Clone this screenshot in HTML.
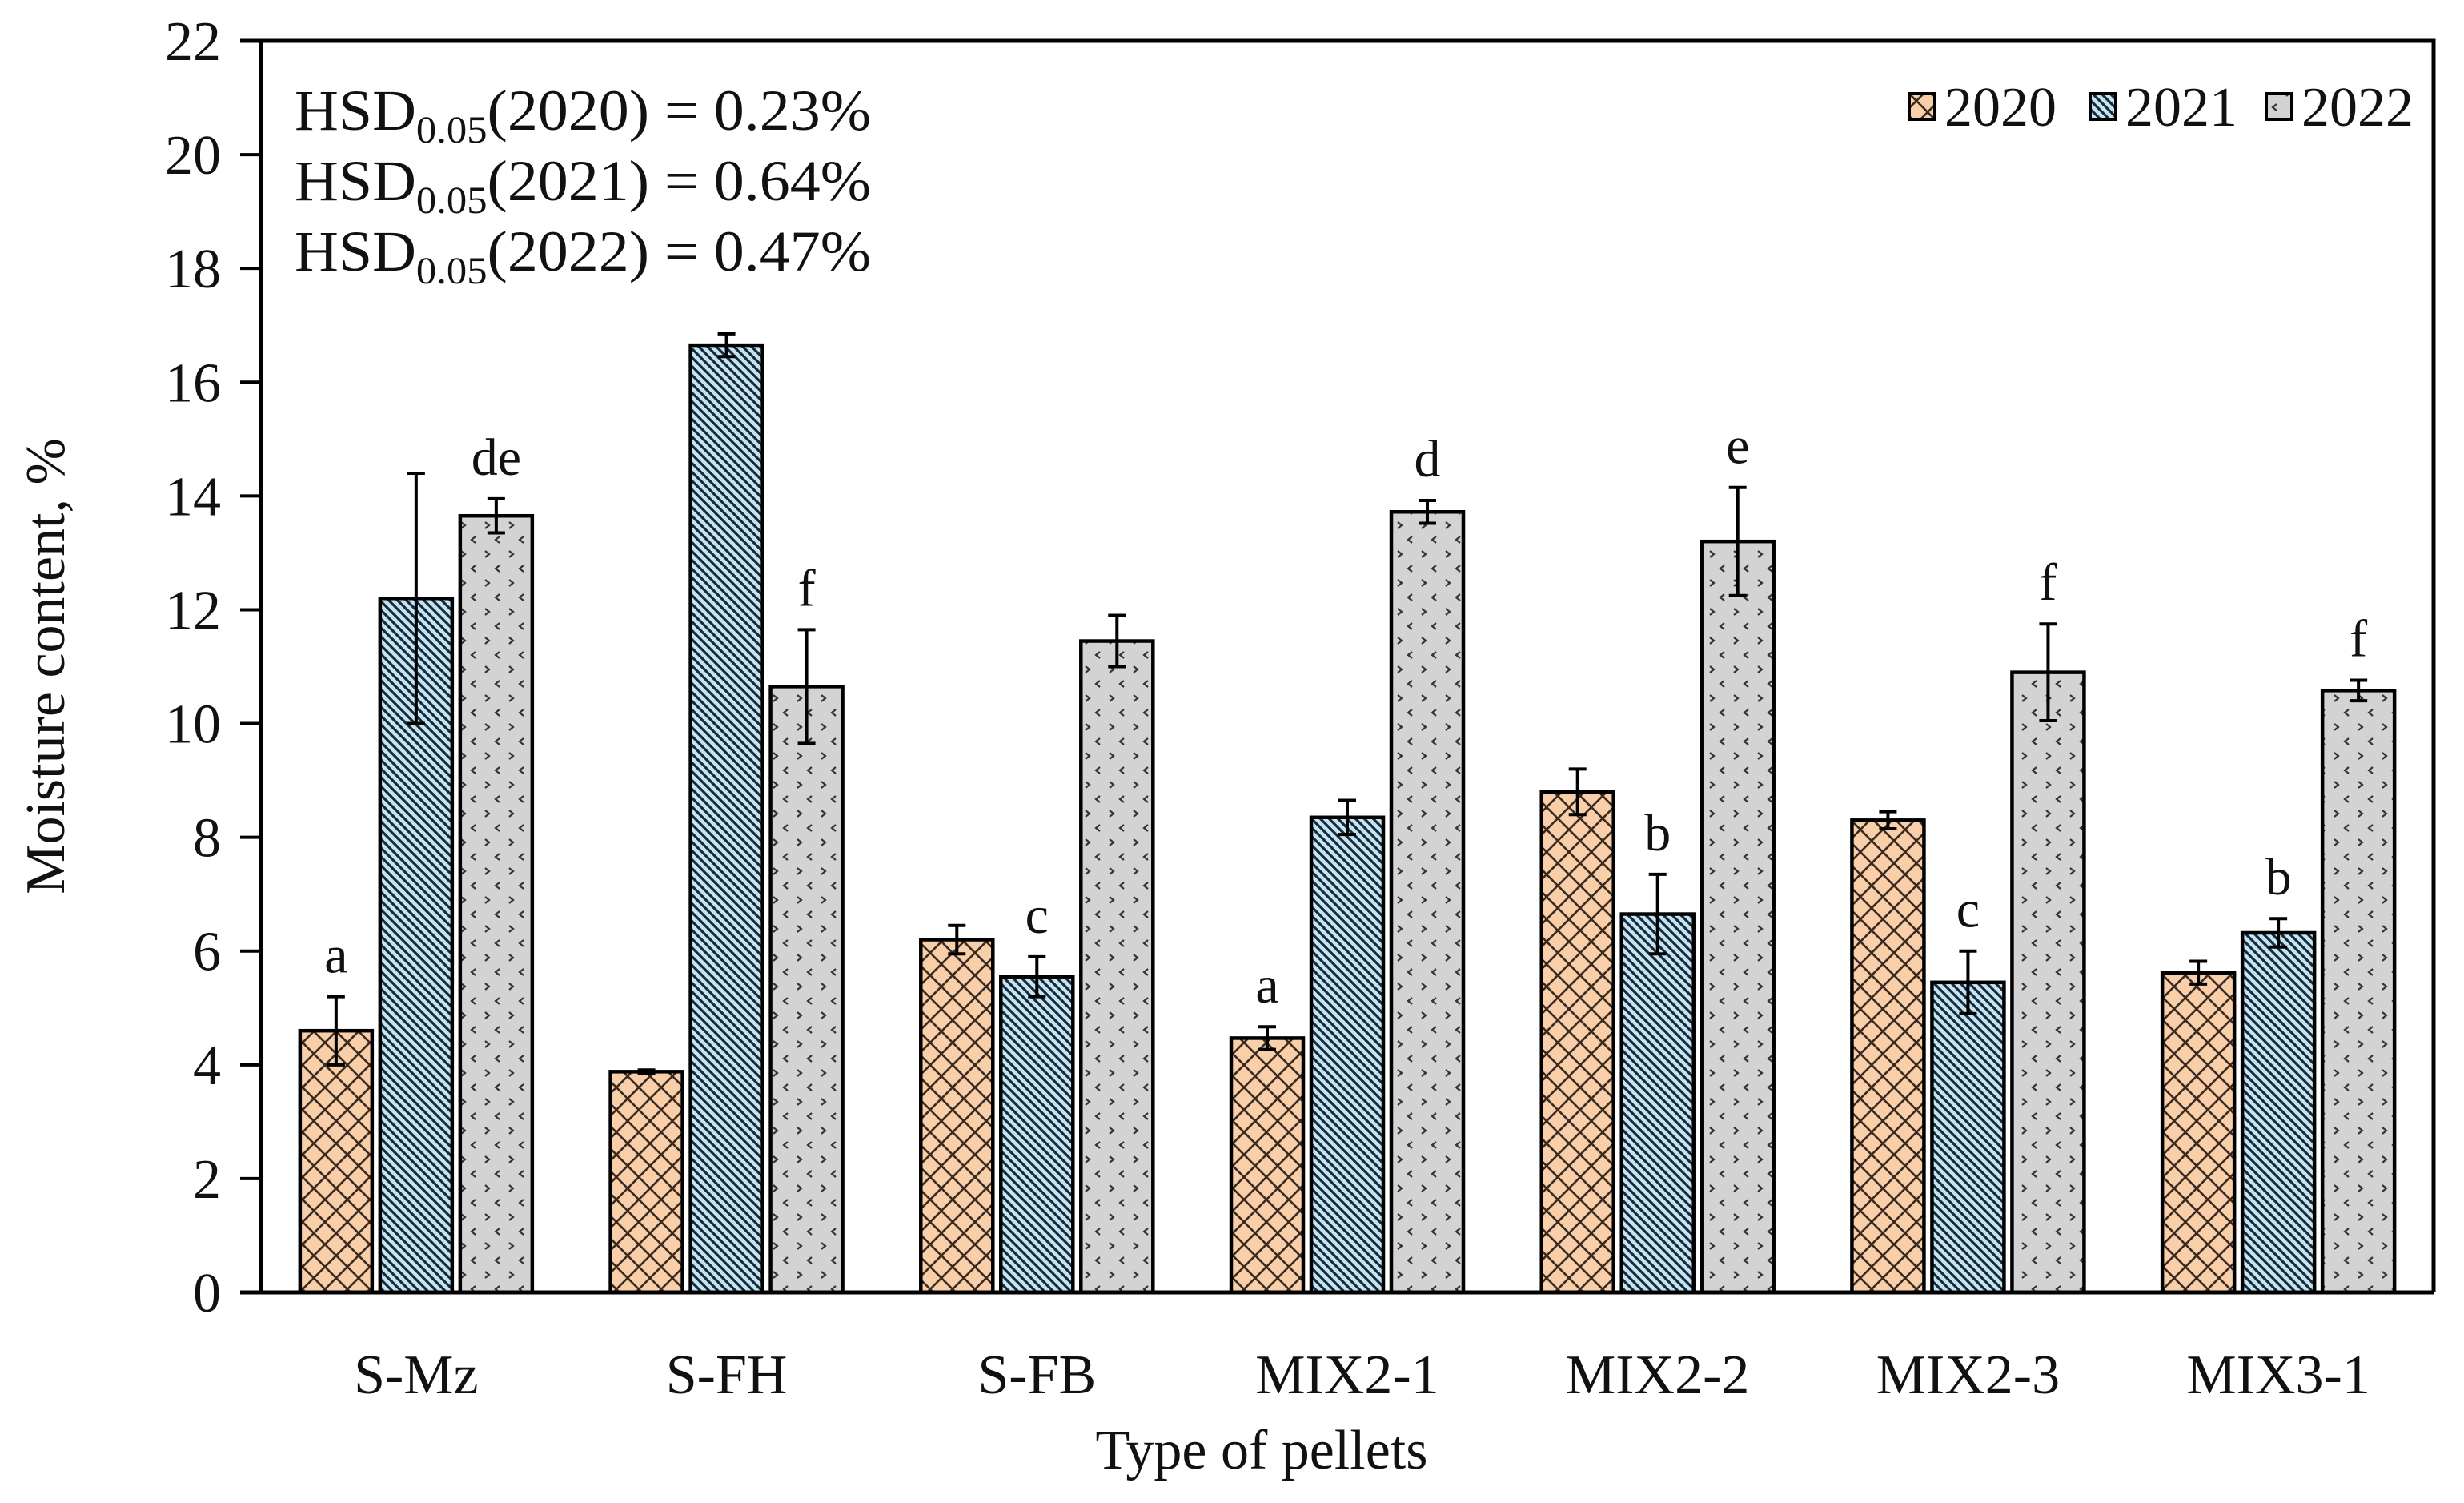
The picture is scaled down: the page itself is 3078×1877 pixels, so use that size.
<!DOCTYPE html>
<html><head><meta charset="utf-8"><style>
html,body{margin:0;padding:0;background:#fff;}
svg{display:block;font-family:"Liberation Serif",serif;}
</style></head><body>
<svg id="chart" width="3078" height="1877" viewBox="0 0 3078 1877" xmlns="http://www.w3.org/2000/svg">
<defs>
<pattern id="p2020" patternUnits="userSpaceOnUse" width="28" height="28">
<rect width="28" height="28" fill="#f9cfa9"/>
<path d="M0,0 L28,28 M28,0 L0,28" stroke="#3a2a20" stroke-width="2.6"/>
</pattern>
<pattern id="p2021" patternUnits="userSpaceOnUse" width="11" height="11">
<rect width="11" height="11" fill="#c2e4f6"/>
<path d="M-3,-3 L14,14 M-3,8 L3,14 M8,-3 L14,3" stroke="#1a2a33" stroke-width="3.2"/>
</pattern>
<pattern id="p2022" patternUnits="userSpaceOnUse" width="30" height="36">
<rect width="30" height="36" fill="#d3d3d3"/>
<path d="M6,4 L11,8 L6,12 M24,22 L19,26 L24,30" stroke="#333" stroke-width="2.2" fill="none"/>
</pattern>
</defs>
<g id="plot"></g>
</svg>
<script>
const categories = ["S-Mz","S-FH","S-FB","MIX2-1","MIX2-2","MIX2-3","MIX3-1"];
const series = ["2020","2021","2022"];
const v2020 = [4.6, 3.88, 6.2, 4.47, 8.8, 8.3, 5.62];
const v2021 = [12.2, 16.65, 5.55, 8.35, 6.65, 5.45, 6.32];
const v2022 = [13.65, 10.65, 11.45, 13.72, 13.2, 10.9, 10.58];
const e2020 = [0.6, 0.03, 0.25, 0.2, 0.4, 0.15, 0.2];
const e2021 = [2.2, 0.2, 0.35, 0.3, 0.7, 0.55, 0.25];
const e2022 = [0.3, 1.0, 0.45, 0.2, 0.95, 0.85, 0.18];
const l2020 = ["a","","","a","","",""];
const l2021 = ["","","c","","b","c","b"];
const l2022 = ["de","f","","d","e","f","f"];
const yTicks = [0,2,4,6,8,10,12,14,16,18,20,22];

const NS="http://www.w3.org/2000/svg";
const g=document.getElementById('plot');
const X0=326, X1=3040, Y0=1614, Y1=51, YMAX=22;
const band=(X1-X0)/categories.length;
const y=v=>Y0-(v/YMAX)*(Y0-Y1);
const xc=i=>X0+band*(i+0.5);
function mk(tag,attrs,parent){const e=document.createElementNS(NS,tag);for(const k in attrs)e.setAttribute(k,attrs[k]);(parent||g).appendChild(e);return e;}

const vals=[v2020,v2021,v2022], errs=[e2020,e2021,e2022], lets=[l2020,l2021,l2022];
const fills=["url(#p2020)","url(#p2021)","url(#p2022)"];
const BW=90, STEP=100;
categories.forEach((c,i)=>{
  for(let s=0;s<3;s++){
    const x=xc(i)+(s-1)*STEP-BW/2, v=vals[s][i];
    const r=mk('rect',{x:x,y:y(v),width:BW,height:Y0-y(v),fill:fills[s],stroke:'#000','stroke-width':4.5});
    
    
    const cx=x+BW/2, t=y(v+errs[s][i]), b=y(v-errs[s][i]);
    const eb=mk('path',{d:`M${cx},${t}L${cx},${b}M${cx-11},${t}L${cx+11},${t}M${cx-11},${b}L${cx+11},${b}`,stroke:'#000','stroke-width':4,fill:'none'});
    
    
    if(lets[s][i]){
      const tx=mk('text',{x:cx,y:t-30,'font-size':66,'text-anchor':'middle',fill:'#111'});
      tx.textContent=lets[s][i];
      
      
    }
  }
  const lb=mk('text',{x:xc(i),y:1740,'font-size':70,'text-anchor':'middle',fill:'#111'});
  lb.textContent=c;
  
  
});
yTicks.forEach(t=>{
  const ln=mk('line',{x1:X0-26,x2:X0,y1:y(t),y2:y(t),stroke:'#000','stroke-width':4});
  
  
  const tx=mk('text',{x:276,y:y(t)+24,'font-size':70,'text-anchor':'end',fill:'#111'});
  tx.textContent=t;
  
  
});
const fr=mk('path',{d:`M${X0-26},${Y1}L${X1},${Y1}L${X1},${Y0}M${X0},${Y1}L${X0},${Y0}M${X0-26},${Y0}L${X1},${Y0}`,stroke:'#000','stroke-width':5,fill:'none'});



const yt=mk('text',{x:0,y:0,'font-size':70,'text-anchor':'middle',fill:'#111',transform:'translate(80,832) rotate(-90)'});
yt.textContent="Moisture content, %";


const xt=mk('text',{x:1576,y:1834,'font-size':70,'text-anchor':'middle',fill:'#111'});
xt.textContent="Type of pellets";



const hsd=[["2020","0.23%"],["2021","0.64%"],["2022","0.47%"]];
hsd.forEach((h,k)=>{
  const t=mk('text',{x:368,y:162+k*88,'font-size':72,fill:'#111',textLength:720,lengthAdjust:'spacingAndGlyphs'});
  t.innerHTML=`HSD<tspan font-size="48" dy="16">0.05</tspan><tspan dy="-16">(${h[0]}) = ${h[1]}</tspan>`;
  
  
});

const legX=[2385,2611,2831];
series.forEach((s,k)=>{
  const r=mk('rect',{x:legX[k],y:117,width:32,height:32,fill:fills[k],stroke:'#000','stroke-width':4});
  
  
  const t=mk('text',{x:legX[k]+44,y:157,'font-size':70,fill:'#111'});
  t.textContent=s;
  
  
});
</script>
</body></html>
